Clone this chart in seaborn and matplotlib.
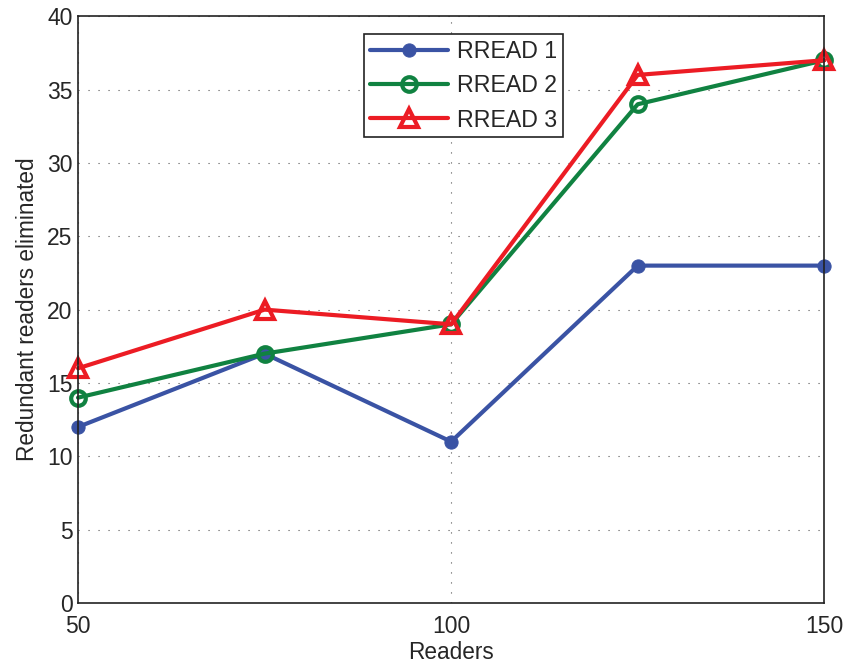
import matplotlib
matplotlib.use("Agg")
import matplotlib.pyplot as plt
import seaborn as sns
import pandas as pd

readers = [50, 75, 100, 125, 150]
rread1 = [12, 17, 11, 23, 23]
rread2 = [14, 17, 19, 34, 37]
rread3 = [16, 20, 19, 36, 37]
series_names = ["RREAD 1", "RREAD 2", "RREAD 3"]
x_ticks = [50, 100, 150]
y_ticks = [0, 5, 10, 15, 20, 25, 30, 35, 40]

sns.set_style("white")
plt.rcParams['font.family'] = ['Liberation Sans', 'DejaVu Sans']

fig = plt.figure(figsize=(8.48, 6.66), dpi=100)
ax = fig.add_axes([0.092, 0.0946, 0.88, 0.881])

colors = ["#3A53A4", "#108241", "#EC1C24"]
styles = [
    dict(marker="o", markersize=9.5, markerfacecolor=colors[0], markeredgecolor=colors[0]),
    dict(marker="o", markersize=10.5, markerfacecolor="none", markeredgecolor=colors[1], markeredgewidth=3),
    dict(marker="^", markersize=13, markerfacecolor="none", markeredgecolor=colors[2], markeredgewidth=3),
]
for name, vals, c, st in zip(series_names, [rread1, rread2, rread3], colors, styles):
    df = pd.DataFrame({"Readers": readers, "val": vals})
    sns.lineplot(data=df, x="Readers", y="val", ax=ax, color=c, linewidth=3,
                 label=name, clip_on=False, zorder=3, **st)

ax.set_xlim(50, 150)
ax.set_ylim(0, 40)
ax.set_xticks(x_ticks)
ax.set_yticks(y_ticks)
ax.grid(True, linestyle=(0, (1, 8)), color="#555555", linewidth=0.8)
ax.tick_params(axis="both", labelsize=16.5, direction="in", length=5, width=1, color="black")
ax.tick_params(axis="x", pad=9)
ax.tick_params(axis="y", pad=4)
for s in ax.spines.values():
    s.set_color("#222222")
    s.set_linewidth(1.2)
    s.set_zorder(4)
ax.set_xlabel("Readers", fontsize=16.3, labelpad=2)
ax.set_ylabel("Redundant readers eliminated", fontsize=16.3, labelpad=6)

leg = ax.legend(loc="upper left", bbox_to_anchor=(0.383, 0.969), borderaxespad=0,
                fontsize=16.7, frameon=True, fancybox=False, edgecolor="#222222",
                framealpha=1, handlelength=3.4, borderpad=0.25, labelspacing=0.48,
                handletextpad=0.35)
leg.get_frame().set_linewidth(1.2)
leg.set_zorder(5)

fig.savefig("out.png", dpi=100)
